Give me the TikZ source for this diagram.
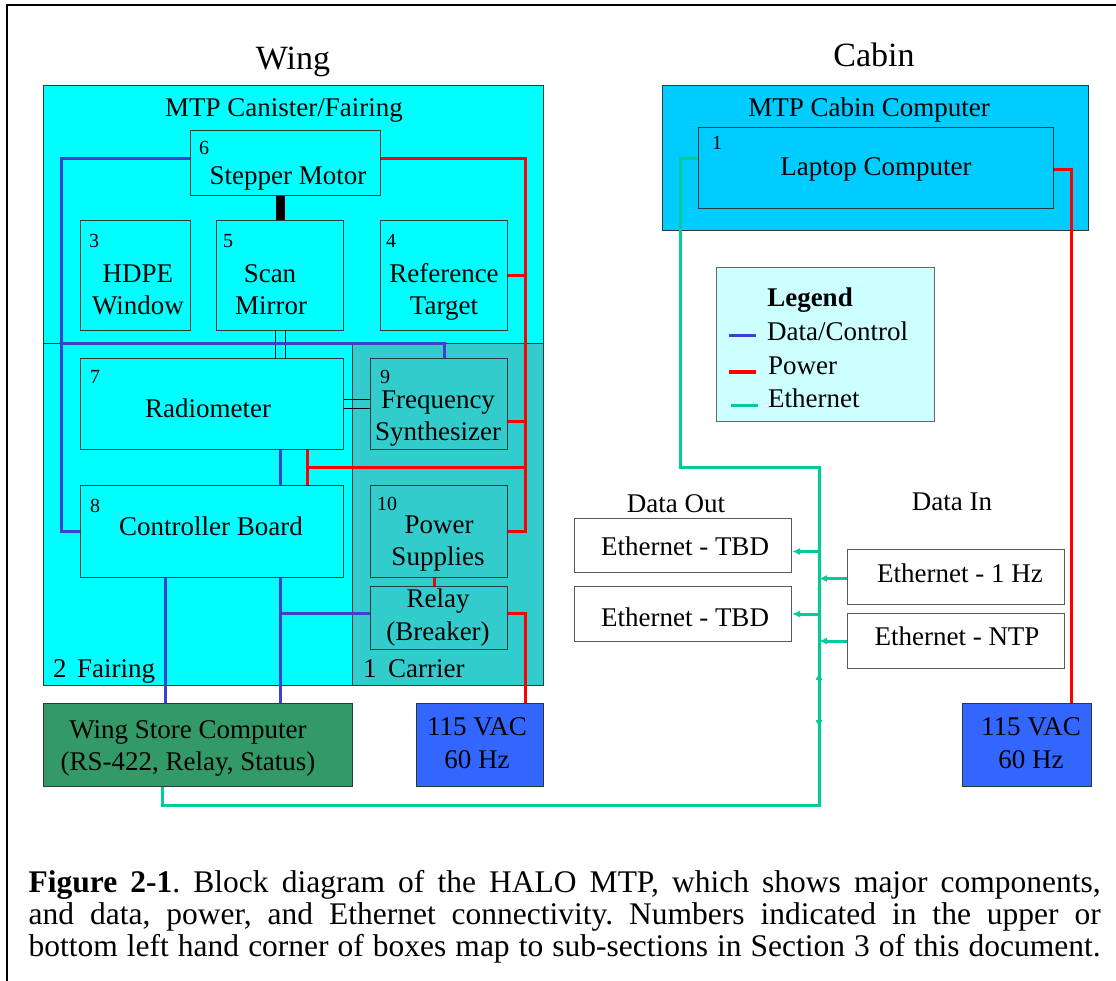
\documentclass[tikz,border=0pt]{standalone}
\usepackage{fontspec}
\setmainfont{Liberation Serif}
\usetikzlibrary{arrows.meta}
\definecolor{cya}{RGB}{0,255,255}
\definecolor{carr}{RGB}{51,204,204}
\definecolor{cabc}{RGB}{0,204,255}
\definecolor{legc}{RGB}{204,255,255}
\definecolor{wsc}{RGB}{51,153,102}
\definecolor{vacc}{RGB}{51,102,255}
\definecolor{dblue}{RGB}{64,64,208}
\definecolor{pred}{RGB}{255,0,0}
\definecolor{egreen}{RGB}{0,204,153}
\definecolor{bord}{RGB}{40,60,60}
\newcommand\fsz{\fontsize{27}{31}\selectfont}
\newcommand\fnum{\fontsize{20}{24}\selectfont}
\newcommand\ftitle{\fontsize{34}{40}\selectfont}
\newcommand\fcap{\fontsize{31.5}{32}\selectfont}
\begin{document}
\frenchspacing
\begin{tikzpicture}[x=1pt,y=-1pt,
  box/.style={draw=bord, line width=1pt, rectangle, inner sep=0pt, anchor=north west},
  bx/.style 2 args={box, minimum width=#1, minimum height=#2},
  tx/.style={inner sep=0pt, anchor=base, font=\fsz},
  txl/.style={inner sep=0pt, anchor=base west, font=\fsz},
  num/.style={inner sep=0pt, anchor=base west, font=\fnum},
  dc/.style={draw=dblue, line width=3pt},
  pw/.style={draw=pred, line width=3pt},
  eth/.style={draw=egreen, line width=3pt},
  thin/.style={draw=black, line width=0.9pt},
  arr/.style={-{Latex[length=8pt,width=7pt]}}
]
\useasboundingbox (0,0) rectangle (1116,981);
\fill[white] (0,0) rectangle (1116,981);

% frame
\coordinate (f1) at (7,981);
\coordinate (f2) at (7,5);
\coordinate (f3) at (1116,5);
\draw[line width=2pt] (f1) -- (f2) -- (f3);

% titles
\node[tx, font=\ftitle] (wingt) at (293,70) {Wing};
\node[tx, font=\ftitle] (cabint) at (874,67) {Cabin};

% wing canister
\node[bx={500pt}{600pt}, fill=cya] (can) at (43,85) {};
\node[bx={309pt}{342pt}, fill=cya] (fair) at (43,343) {};
\node[bx={191pt}{342pt}, fill=carr] (carr) at (352,343) {};
\node[tx] (cant) at (284,117) {MTP Canister/Fairing};

\node[bx={190pt}{65pt}, fill=cya] (sm) at (190,130) {};
\node[bx={110pt}{110pt}, fill=cya] (hd) at (80,220) {};
\node[bx={127pt}{110pt}, fill=cya] (scm) at (216,220) {};
\node[bx={127pt}{110pt}, fill=cya] (rt) at (380,220) {};
\node[bx={263pt}{91pt}, fill=cya] (rad) at (80,358) {};
\node[bx={263pt}{92pt}, fill=cya] (cb) at (80,485) {};
\node[bx={137pt}{91pt}, fill=carr] (fs) at (370,358) {};
\node[bx={137pt}{92pt}, fill=carr] (ps) at (370,485) {};
\node[bx={137pt}{63pt}, fill=carr] (rl) at (370,586) {};

\node[bx={309pt}{83pt}, fill=wsc] (ws) at (43,703) {};
\node[bx={127pt}{83pt}, fill=vacc] (vac1) at (416,703) {};

% cabin
\node[bx={426pt}{145pt}, fill=cabc] (cab) at (662,85) {};
\node[bx={355pt}{81pt}, fill=cabc] (lap) at (698,127) {};
\node[bx={218pt}{154pt}, fill=legc, draw=black!60] (leg) at (716,267) {};

\node[bx={217pt}{54pt}, fill=white, draw=black!65] (out1) at (574,518) {};
\node[bx={217pt}{55pt}, fill=white, draw=black!65] (out2) at (574,586) {};
\node[bx={217pt}{55pt}, fill=white, draw=black!65] (in1) at (847,549) {};
\node[bx={217pt}{55pt}, fill=white, draw=black!65] (in2) at (847,613) {};
\node[bx={129pt}{83pt}, fill=vacc] (vac2) at (962,703) {};

% texts in wing
\node[num] (n6) at (199,155) {6};
\node[tx] (smt) at (288,185) {Stepper Motor};
\node[num] (n3) at (89,248) {3};
\node[tx] (hdt1) at (138,283) {HDPE};
\node[tx] (hdt2) at (138,315) {Window};
\node[num] (n5) at (223,248) {5};
\node[tx] (sct1) at (270,283) {Scan};
\node[tx] (sct2) at (271,315) {Mirror};
\node[num] (n4) at (386,248) {4};
\node[tx] (rtt1) at (444,283) {Reference};
\node[tx] (rtt2) at (444,315) {Target};
\node[num] (n7) at (90,383) {7};
\node[tx] (radt) at (208,417) {Radiometer};
\node[num] (n8) at (90,512) {8};
\node[tx] (cbt) at (211,535) {Controller Board};
\node[num] (n9) at (380,383) {9};
\node[tx] (fst1) at (438,408) {Frequency};
\node[tx] (fst2) at (438,440) {Synthesizer};
\node[num] (n10) at (377,510) {10};
\node[tx] (pst1) at (439,533) {Power};
\node[tx] (pst2) at (438,565) {Supplies};
\node[tx] (rlt1) at (438,607) {Relay};
\node[tx] (rlt2) at (438,640) {(Breaker)};
\node[txl] (n2) at (53,677) {2};
\node[txl] (fairt) at (77,677) {Fairing};
\node[txl] (n1) at (363,677) {1};
\node[txl] (carrt) at (388,677) {Carrier};
\node[tx] (wst1) at (188,738) {Wing Store Computer};
\node[tx] (wst2) at (188,770) {(RS-422, Relay, Status)};
\node[tx] (v1t1) at (477,735) {115 VAC};
\node[tx] (v1t2) at (477,768) {60 Hz};

% texts in cabin
\node[tx] (cabt) at (869,117) {MTP Cabin Computer};
\node[num] (nl1) at (712,150) {1};
\node[tx] (lapt) at (876,176) {Laptop Computer};
\node[tx, font=\fsz\bfseries] (legt) at (810,307) {Legend};
\node[txl] (legd) at (767,341) {Data/Control};
\node[txl] (legp) at (768,374) {Power};
\node[txl] (lege) at (768,407) {Ethernet};
\coordinate (lb1) at (729,336); \coordinate (lb2) at (756,336);
\coordinate (lr1) at (729,372); \coordinate (lr2) at (756,372);
\coordinate (lg1) at (731,405); \coordinate (lg2) at (758,405);
\draw[dc] (lb1) -- (lb2);
\draw[pw] (lr1) -- (lr2);
\draw[eth] (lg1) -- (lg2);

\node[tx] (dot) at (676,512) {Data Out};
\node[tx] (dit) at (952,510) {Data In};
\node[tx] (o1t) at (685,555) {Ethernet - TBD};
\node[tx] (o2t) at (685,626) {Ethernet - TBD};
\node[tx] (i1t) at (960,582) {Ethernet - 1 Hz};
\node[tx] (i2t) at (957,645) {Ethernet - NTP};
\node[tx] (v2t1) at (1031,735) {115 VAC};
\node[tx] (v2t2) at (1031,768) {60 Hz};

% black mechanical / RF links
\draw[line width=9pt] (scm.north) -- (scm.north |- sm.south);
\draw[thin] ([xshift=-5pt]scm.south) -- ([xshift=-5pt]scm.south |- rad.north);
\draw[thin] ([xshift=5pt]scm.south) -- ([xshift=5pt]scm.south |- rad.north);
\draw[thin] ([yshift=5pt]rad.east) -- ([yshift=5pt]rad.east -| fs.west);
\draw[thin] ([yshift=-4pt]rad.east) -- ([yshift=-4pt]rad.east -| fs.west);

% data/control
\coordinate (bx) at (61,344);
\draw[dc] ([yshift=4.5pt]sm.west) -| (bx) |- (cb.west);
\draw[dc] (bx) -| ([xshift=5.5pt]fs.north);
\draw[dc] (rad.south -| scm.south) -- (cb.north -| scm.south);
\draw[dc] ([xshift=-46.5pt]cb.south) -- ([xshift=-46.5pt]cb.south |- ws.north);
\draw[dc] (cb.south -| scm.south) -- (ws.north -| scm.south);
\draw[dc] ([yshift=4.5pt]rl.west) -- ([yshift=4.5pt]rl.west -| scm.south);

% power
\coordinate (rx) at (525,0);
\coordinate (r1) at (307,467);
\coordinate (rx2) at (1071,0);
\draw[pw] ([yshift=4.5pt]sm.east) -| (rx |- ps.east) -- (ps.east);
\draw[pw] (rt.east) -- (rt.east -| rx);
\draw[pw] ([yshift=-17.5pt]fs.east) -- ([yshift=-17.5pt]fs.east -| rx);
\draw[pw] (r1 -| rx) -- (r1);
\draw[pw] (rad.south -| r1) -- (cb.north -| r1);
\draw[pw, line width=2.5pt] ([xshift=-4.5pt]ps.south) -- ([xshift=-4.5pt]rl.north);
\draw[pw] ([yshift=4.5pt]rl.east) -| (vac1.north -| rx);
\draw[pw] ([yshift=-1.5pt]lap.east) -| (vac2.north -| rx2);

% ethernet
\coordinate (g1) at (680,467);
\coordinate (gt) at (819,467);
\coordinate (gbot) at (819,805);
\draw[eth] ([yshift=9pt]lap.west) -| (g1) -- (gt) -- (gbot) -| ([xshift=-35.5pt]ws.south);
\draw[eth, arr] ([yshift=-6pt]out1.east -| gt) -- ([yshift=-6pt]out1.east);
\draw[eth, arr] (out2.east -| gt) -- (out2.east);
\draw[eth, arr] ([yshift=-1.5pt]in1.west) -- ([yshift=-1.5pt]in1.west -| gt);
\draw[eth, arr] (in2.west) -- (in2.west -| gt);
\coordinate (ga1) at (819,690); \coordinate (ga2) at (819,672);
\coordinate (ga3) at (819,710); \coordinate (ga4) at (819,728);
\draw[eth, arr] (ga1) -- (ga2);
\draw[eth, arr] (ga3) -- (ga4);

% caption
\node[inner sep=0pt, anchor=base west, font=\fcap] (cap1) at (28.5,892)
  {\makebox[1072pt][s]{\textbf{Figure 2-1}. Block diagram of the HALO MTP, which shows major components,}};
\node[inner sep=0pt, anchor=base west, font=\fcap] (cap2) at (28.5,924)
  {\makebox[1072pt][s]{and data, power, and Ethernet connectivity. Numbers indicated in the upper or}};
\node[inner sep=0pt, anchor=base west, font=\fcap] (cap3) at (28.5,956)
  {\makebox[1072pt][s]{bottom left hand corner of boxes map to sub-sections in Section 3 of this document.}};
\end{tikzpicture}
\end{document}
